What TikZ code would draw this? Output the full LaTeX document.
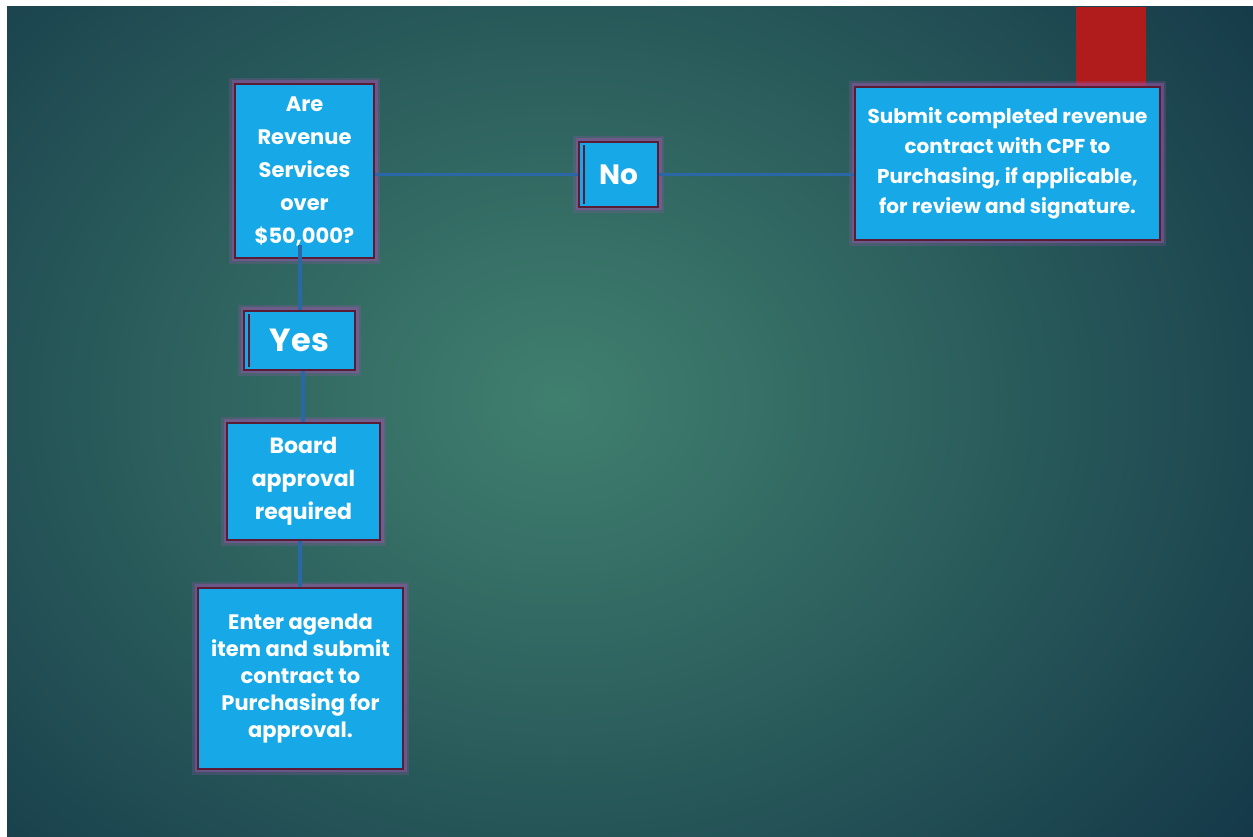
\documentclass[tikz,border=0pt]{standalone}
\usepackage{fontspec}
\setmainfont{Poppins}
\usetikzlibrary{positioning}
\definecolor{bgin}{HTML}{40806F}
\definecolor{bgout}{HTML}{143848}
\definecolor{boxblue}{HTML}{17A9E7}
\definecolor{boxedge}{HTML}{5A1B34}
\definecolor{glow}{HTML}{9A55A6}
\definecolor{linkblue}{HTML}{2A67A6}
\definecolor{tabred}{HTML}{B01B1B}
\tikzset{
  flowbox/.style={draw=boxedge, line width=2pt, fill=boxblue, text=white,
    align=center, inner sep=2pt,
    preaction={draw=glow, line width=12pt, opacity=0.25},
    preaction={draw=glow, line width=7pt, opacity=0.45}},
  answerbox/.style={flowbox,
    path picture={\draw[boxedge, line width=1.5pt]
      ([xshift=5pt,yshift=3pt]path picture bounding box.south west) --
      ([xshift=5pt,yshift=-3pt]path picture bounding box.north west);}},
  link/.style={draw=linkblue, line width=3.5pt}
}
\begin{document}
\begin{tikzpicture}[x=1pt,y=1pt]
    \useasboundingbox (0,0) rectangle (1253,837);
    \fill[white] (0,0) rectangle (1253,837);
    % Background: dark teal with a lighter centre
    \fill[bgout] (7,0) rectangle (1253,830);
    \begin{scope}
        \clip (7,0) rectangle (1253,830);
        \shade[inner color=bgin, outer color=bgout] (560,437) ellipse (880 and 720);
    \end{scope}
    \fill[tabred] (1076,830) rectangle (1146,750);
    % Decision and its two branches
    \node[flowbox, minimum width=139, minimum height=174,
      font=\fontsize{21}{33}\selectfont\bfseries] (question) at (304.5,666)
      {Are\\Revenue\\Services\\over\\\$50,000?};
    \node[answerbox, minimum width=79, minimum height=65,
      font=\fontsize{28}{30}\selectfont\bfseries] (no) at (618.5,662.5) {No};
    \node[flowbox, minimum width=305, minimum height=153,
      font=\fontsize{20}{30}\selectfont\bfseries] (submit) at (1007.5,673.5)
      {Submit completed revenue\\contract with CPF to\\Purchasing, if applicable,\\for review and signature.};
    \node[answerbox, minimum width=111, minimum height=59,
      font=\fontsize{32}{34}\selectfont\bfseries] (yes) at (299.5,496.5) {Yes};
    \node[flowbox, minimum width=153, minimum height=117,
      font=\fontsize{22}{33}\selectfont\bfseries] (board) at (303.5,355.5)
      {Board\\approval\\required};
    \node[flowbox, minimum width=205, minimum height=181,
      font=\fontsize{21}{27}\selectfont\bfseries] (enter) at (300.5,158.5)
      {Enter agenda\\item and submit\\contract to\\Purchasing for\\approval.};
    % Connectors
    \coordinate (qfoot) at (300,592);
    \draw[link] (no.west) -- (no.west -| question.east);
    \draw[link] (no.east) -- (no.east -| submit.west);
    \draw[link] (qfoot) -- (qfoot |- yes.north);
    \draw[link] (yes.south -| 303,0) -- (board.north -| 303,0);
    \draw[link] (board.south -| 300,0) -- (enter.north -| 300,0);
\end{tikzpicture}
\end{document}
